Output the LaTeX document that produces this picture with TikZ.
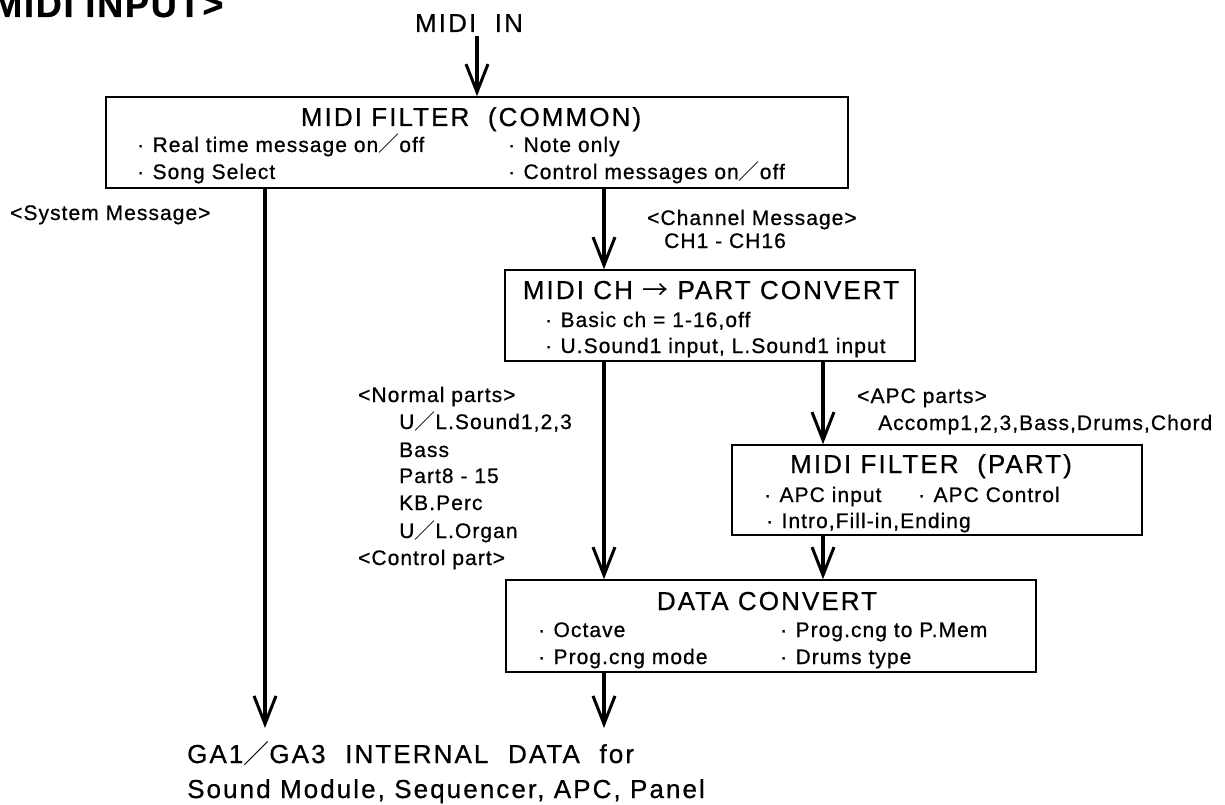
\documentclass[tikz,border=0pt]{standalone}
\usepackage{fontspec}
\setmainfont{Liberation Sans}[LetterSpace=5,FakeBold=0.7]
\newfontfamily\cjk{Noto Sans CJK JP}
\usetikzlibrary{arrows.meta}
\newcommand{\slsh}{{\cjk ／}}
\newcommand{\itemdot}{·\hspace{0.4em}}

\begin{document}
\begin{tikzpicture}[x=1pt,y=-1pt,
    box/.style={draw,line width=1.6pt,inner sep=0pt},
    ttl/.style={anchor=base,inner sep=0pt,font=\fontsize{26}{30}\selectfont\addfontfeature{LetterSpace=8}},
    txt/.style={anchor=base west,inner sep=0pt,font=\fontsize{21}{26}\selectfont},
    big/.style={anchor=base west,inner sep=0pt,font=\fontsize{26}{30}\selectfont\addfontfeature{LetterSpace=8}},
    flow/.style={line width=4pt,-{Straight Barb[length=28pt,width=22pt,line width=3pt]}}]
  \useasboundingbox (0,0) rectangle (1225,805);

  \node[anchor=base west,inner sep=0pt,font=\fontsize{36}{40}\selectfont\bfseries] (hdr) at (-8,17) {MIDI INPUT>};
  \node[ttl] (midiin) at (469,32) {MIDI\ \ IN};

  % boxes
  \node[box,minimum width=742pt,minimum height=91pt] (common) at (477,142.5) {};
  \node[box,minimum width=410pt,minimum height=91pt] (chpart) at (710,315.5) {};
  \node[box,minimum width=410pt,minimum height=90pt] (partflt) at (937,490) {};
  \node[box,minimum width=530pt,minimum height=92pt] (dataconv) at (771,626) {};

  % MIDI FILTER (COMMON)
  \node[ttl] (commonT) at (471,126) {MIDI FILTER\ \ (COMMON)};
  \node[txt] (commonA) at (137,152) {\itemdot Real time message on\slsh off};
  \node[txt] (commonB) at (137,179) {\itemdot Song Select};
  \node[txt] (commonC) at (508,152) {\itemdot Note only};
  \node[txt] (commonD) at (508,179) {\itemdot Control messages on\slsh off};

  % MIDI CH -> PART
  \node[ttl] (chpartT) at (711,299) {MIDI CH {\cjk →} PART CONVERT};
  \node[txt] (chpartA) at (545,327) {\itemdot Basic ch = 1-16,off};
  \node[txt] (chpartB) at (545,353) {\itemdot U.Sound1 input, L.Sound1 input};

  % MIDI FILTER (PART)
  \node[ttl] (partfltT) at (931,473) {MIDI FILTER\ \ (PART)};
  \node[txt] (partfltA) at (764,502) {\itemdot APC input};
  \node[txt] (partfltB) at (918,502) {\itemdot APC Control};
  \node[txt] (partfltC) at (766,528) {\itemdot Intro,Fill-in,Ending};

  % DATA CONVERT
  \node[ttl] (dataconvT) at (767,610) {DATA CONVERT};
  \node[txt] (dataconvA) at (538,637) {\itemdot Octave};
  \node[txt] (dataconvB) at (538,664) {\itemdot Prog.cng mode};
  \node[txt] (dataconvC) at (780,637) {\itemdot Prog.cng to P.Mem};
  \node[txt] (dataconvD) at (780,664) {\itemdot Drums type};

  % side labels
  \node[txt] (sysmsg) at (10,220) {<System Message>};
  \node[txt] (chmsg) at (647,225) {<Channel Message>};
  \node[txt] (chrange) at (664,248) {CH1 - CH16};
  \node[txt] (normal) at (358,402) {<Normal parts>};
  \node[txt] (normal1) at (399,429) {U\slsh L.Sound1,2,3};
  \node[txt] (normal2) at (399,457) {Bass};
  \node[txt] (normal3) at (399,483) {Part8 - 15};
  \node[txt] (normal4) at (399,510) {KB.Perc};
  \node[txt] (normal5) at (399,538) {U\slsh L.Organ};
  \node[txt] (ctrlpart) at (358,565) {<Control part>};
  \node[txt] (apc) at (857,403) {<APC parts>};
  \node[txt] (apc1) at (878,430) {Accomp1,2,3,Bass,Drums,Chord};

  % output
  \node[big] (ga) at (187,763) {GA1\slsh GA3\ \hspace{0.4em}INTERNAL\ \hspace{0.4em}DATA\ \hspace{0.4em}for};
  \node[big] (ga2) at (187,798) {Sound Module, Sequencer, APC, Panel};

  % connectors
  \coordinate (sysx) at (265,728);
  \coordinate (chx) at (604,728);
  \coordinate (apcx) at (823,0);
  \draw[flow,shorten <=4pt] (midiin.south -| common.north) -- (common.north);
  \draw[flow] (common.south -| sysx) -- (sysx);
  \draw[flow] (common.south -| chx) -- (chpart.north -| chx);
  \draw[flow] (chpart.south -| chx) -- (dataconv.north -| chx);
  \draw[flow] (chpart.south -| apcx) -- (partflt.north -| apcx);
  \draw[flow] (partflt.south -| apcx) -- (dataconv.north -| apcx);
  \draw[flow] (dataconv.south -| chx) -- (chx);
\end{tikzpicture}
\end{document}
